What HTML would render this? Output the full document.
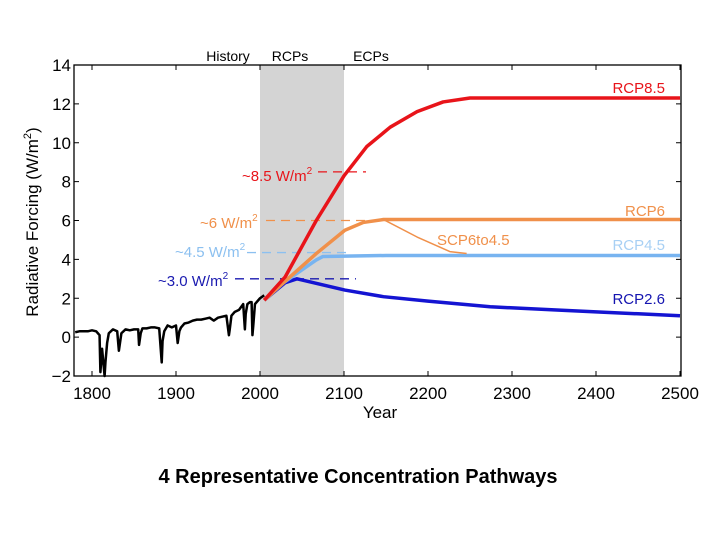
<!DOCTYPE html>
<html><head><meta charset="utf-8"><style>
body{margin:0;background:#fff;width:720px;height:540px;overflow:hidden}
svg text{font-family:"Liberation Sans",Arial,sans-serif}
</style></head><body>
<svg id="chart" width="720" height="540" xmlns="http://www.w3.org/2000/svg">
<g id="plot"></g>
<text x="358" y="483" font-size="20" font-weight="bold" text-anchor="middle" fill="#000">4 Representative Concentration Pathways</text>
</svg>
<script>
const xTicks=[1800,1900,2000,2100,2200,2300,2400,2500];
const yTicks=[-2,0,2,4,6,8,10,12,14];
const histYears=[1780,1785,1790,1795,1800,1805,1809,1810,1812,1815,1816,1818,1820,1825,1830,1832,1835,1840,1845,1850,1855,1856,1858,1860,1865,1870,1875,1880,1883,1884,1886,1890,1895,1900,1902,1904,1906,1910,1915,1920,1925,1930,1935,1940,1945,1950,1955,1960,1963,1964,1966,1970,1975,1980,1982,1983,1985,1988,1990,1991,1992,1994,2000,2005];
const histVals=[0.25,0.3,0.3,0.3,0.35,0.3,0.1,-1.8,-0.6,-2.0,-1.3,-0.3,0.2,0.4,0.3,-0.7,0.2,0.4,0.35,0.4,0.4,-0.4,0.2,0.45,0.45,0.5,0.5,0.45,-1.3,-0.2,0.3,0.6,0.5,0.6,-0.3,0.3,0.5,0.7,0.75,0.85,0.9,0.9,0.95,1.0,0.85,1.0,1.05,1.1,0.1,0.4,1.1,1.3,1.4,1.7,0.4,1.2,1.7,1.8,1.8,0.1,0.6,1.7,2.0,2.15];
const rcp85Years=[2005,2030,2067,2100,2127,2155,2187,2218,2250,2500];
const rcp85Vals=[1.9,3.1,6.0,8.3,9.8,10.8,11.6,12.1,12.3,12.3];
const rcp6Years=[2005,2028,2067,2101,2123,2147,2500];
const rcp6Vals=[1.9,2.8,4.3,5.5,5.9,6.05,6.05];
const scpYears=[2147,2187,2226,2246];
const scpVals=[6.05,5.15,4.4,4.3];
const rcp45Years=[2005,2028,2067,2075,2150,2500];
const rcp45Vals=[1.9,2.8,3.97,4.15,4.2,4.2];
const rcp26Years=[2005,2030,2044,2101,2147,2200,2274,2350,2400,2450,2500];
const rcp26Vals=[1.9,2.8,3.0,2.42,2.08,1.85,1.56,1.4,1.3,1.2,1.1];
const L=74,R=681,T=65,B=376;
const X=y=>92+(y-1800)*0.84;
const Y=v=>B-(v+2)*(B-T)/16;
const g=document.getElementById('plot');
const NS="http://www.w3.org/2000/svg";
function mk(tag,at,parent){const e=document.createElementNS(NS,tag);for(const k in at)e.setAttribute(k,at[k]);(parent||g).appendChild(e);return e;}
let e=mk('rect',{x:X(2000),y:T,width:X(2100)-X(2000),height:B-T,fill:'#d4d4d4'});


e=mk('rect',{x:L,y:T,width:R-L,height:B-T,fill:'none',stroke:'#000','stroke-width':1.3});


xTicks.forEach(t=>{mk('line',{x1:X(t),x2:X(t),y1:B,y2:B-5,stroke:'#000'});mk('line',{x1:X(t),x2:X(t),y1:T,y2:T+5,stroke:'#000'});
 const tx=mk('text',{x:X(t),y:B+23,'font-size':17,'text-anchor':'middle'});tx.textContent=t;
 
 });
yTicks.forEach(t=>{mk('line',{x1:L,x2:L+5,y1:Y(t),y2:Y(t),stroke:'#000'});mk('line',{x1:R,x2:R-5,y1:Y(t),y2:Y(t),stroke:'#000'});
 const tx=mk('text',{x:L-3,y:Y(t)+6,'font-size':17,'text-anchor':'end'});tx.textContent=t<0?'\u2212'+(-t):t;
 
 });
function txt(s,x,y,fs,fill,anchor,name){const t=mk('text',{x:x,y:y,'font-size':fs,fill:fill,'text-anchor':anchor||'start'});t.innerHTML=s;
 
 return t;}
txt('Year',380,418,17,'#000','middle','x-axis-title');
const yt=txt('Radiative Forcing (W/m<tspan dy="-7" font-size="11">2</tspan><tspan dy="7">)</tspan>',0,0,17,'#000','middle','y-axis-title');
yt.setAttribute('transform','translate(38,222) rotate(-90)');
txt('History',228,61,14,'#000','middle','history-label');
txt('RCPs',290,61,14,'#000','middle','rcps-label');
txt('ECPs',371,61,14,'#000','middle','ecps-label');
function dash(v,x1,x2,c){const l=mk('line',{x1:x1,x2:x2,y1:Y(v),y2:Y(v),stroke:c,'stroke-width':1.3,'stroke-dasharray':'9,6'});
 
 }
dash(8.5,318,366,'#e8141a');dash(6,266,384,'#f0904a');dash(4.35,247,352,'#8cc0f0');dash(3.0,235,356,'#1a1ab0');
txt('~8.5 W/m<tspan dy="-7" font-size="10">2</tspan>',242,181,15,'#e8141a','start','rcp85-target-label');
txt('~6 W/m<tspan dy="-7" font-size="10">2</tspan>',200,228,15,'#f0904a','start','rcp6-target-label');
txt('~4.5 W/m<tspan dy="-7" font-size="10">2</tspan>',175,257,15,'#8cc0f0','start','rcp45-target-label');
txt('~3.0 W/m<tspan dy="-7" font-size="10">2</tspan>',158,286,15,'#1a1ab0','start','rcp26-target-label');
function line(xs,vs,c,w,name){const p=mk('polyline',{points:xs.map((y,i)=>X(y)+','+Y(vs[i])).join(' '),fill:'none',stroke:c,'stroke-width':w,'stroke-linejoin':'round'});
 
 }
line(histYears,histVals,'#000',2.5,'history-line');
line(rcp26Years,rcp26Vals,'#1414d2',3.5,'rcp26-line');
line(rcp45Years,rcp45Vals,'#78b4f0',3.5,'rcp45-line');
line(scpYears,scpVals,'#f0904a',1.5,'scp6to45-line');
line(rcp6Years,rcp6Vals,'#f0904a',3.5,'rcp6-line');
line(rcp85Years,rcp85Vals,'#e8141a',3.5,'rcp85-line');
txt('RCP8.5',665,93,15,'#e8141a','end','rcp85-label');
txt('RCP6',665,216,15,'#f0904a','end','rcp6-label');
txt('RCP4.5',665,250,15,'#a8d0f4','end','rcp45-label');
txt('RCP2.6',665,304,15,'#1414b0','end','rcp26-label');
txt('SCP6to4.5',437,245,15,'#f0904a','start','scp6to45-label');
</script>
</body></html>
